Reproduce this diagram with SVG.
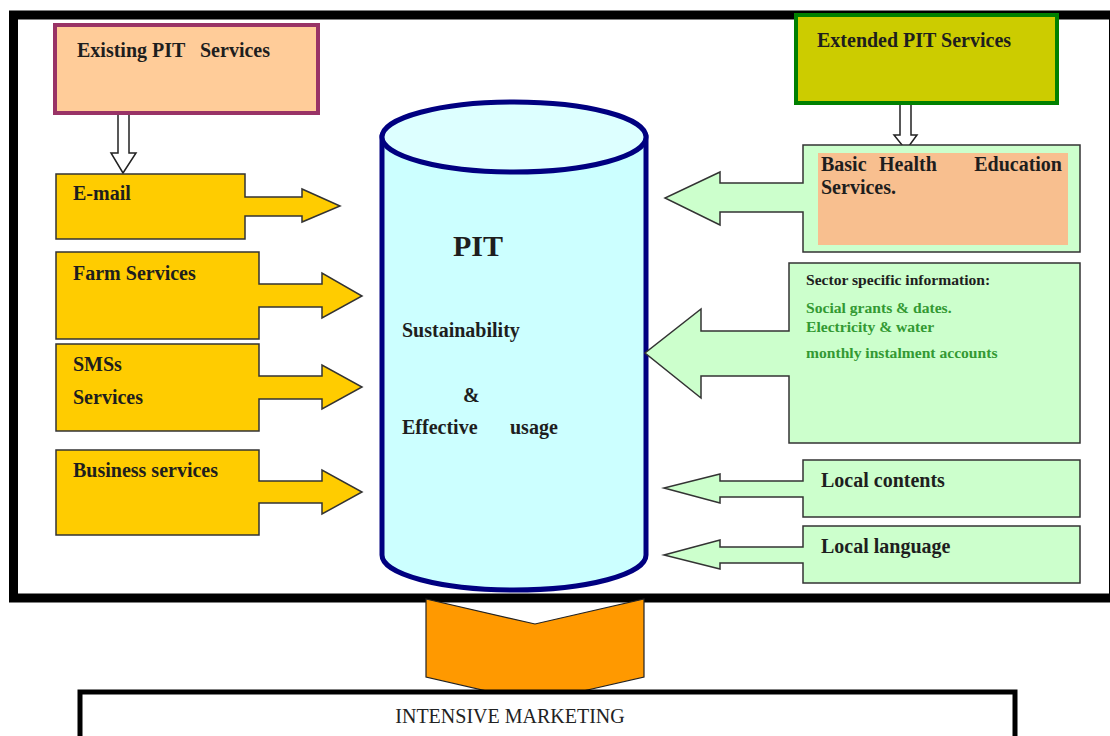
<svg xmlns="http://www.w3.org/2000/svg" width="1110" height="736" viewBox="0 0 1110 736">
<style>
.lbl{font-family:"Liberation Serif","Times New Roman",serif;font-weight:bold;font-size:20px;fill:#1e1e1e}
.sm{font-family:"Liberation Serif","Times New Roman",serif;font-weight:bold;font-size:15.6px}
.yel{fill:#FFCC00;stroke:#333;stroke-width:1.5}
.grn{fill:#CCFFCC;stroke:#333;stroke-width:1.5}
.wht{fill:#fff;stroke:#222;stroke-width:1.5}
</style>
<rect width="1110" height="736" fill="#fff"/>
<rect id="frame" x="13.5" y="15" width="1100" height="583" fill="none" stroke="#000" stroke-width="9"/>

<g id="connectors">
<polygon class="wht" points="118,112 129,112 129,153 136,153 123,173 111,153 118,153"/>
<polygon class="wht" points="900,95 911,95 911,135 917,135 906,150 894,135 900,135"/>
</g>

<g id="existing">
<rect x="55" y="25" width="263" height="88" fill="#FFCC99" stroke="#993366" stroke-width="4"/>
<text class="lbl" x="77" y="57">Existing PIT</text>
<text class="lbl" x="200" y="57">Services</text>
</g>

<g id="extended">
<rect x="796" y="15" width="261" height="88" fill="#CCCC00" stroke="#008000" stroke-width="4"/>
<text class="lbl" x="817" y="47">Extended PIT Services</text>
</g>

<g id="email">
<polygon class="yel" points="56,174 245,174 245,197 302,197 302,189 340,206 302,222 302,216 245,216 245,239 56,239"/>
<text class="lbl" x="73" y="200">E-mail</text>
</g>
<g id="farm">
<polygon class="yel" points="56,252 259,252 259,284 322,284 322,273 362,296 322,318 322,307 259,307 259,339 56,339"/>
<text class="lbl" x="73" y="280">Farm Services</text>
</g>
<g id="sms">
<polygon class="yel" points="56,344 259,344 259,376 322,376 322,365 362,387 322,409 322,399 259,399 259,431 56,431"/>
<text class="lbl" x="73" y="371">SMSs</text>
<text class="lbl" x="73" y="404">Services</text>
</g>
<g id="business">
<polygon class="yel" points="56,450 259,450 259,481 322,481 322,470 362,492 322,514 322,503 259,503 259,535 56,535"/>
<text class="lbl" x="73" y="477">Business services</text>
</g>

<g id="pit">
<path d="M382,137 L382,555 A132,35 0 0 0 646,555 L646,137 Z" fill="#CCFFFF" stroke="#000080" stroke-width="5"/>
<ellipse cx="514" cy="137" rx="132" ry="35" fill="#DDFFFF" stroke="#000080" stroke-width="5"/>
<text class="lbl" x="453" y="256" style="font-size:30px">PIT</text>
<text class="lbl" x="402" y="337">Sustainability</text>
<text class="lbl" x="463" y="402">&amp;</text>
<text class="lbl" x="402" y="434">Effective</text>
<text class="lbl" x="510" y="434">usage</text>
</g>

<g id="health">
<polygon class="grn" points="803,145 1080,145 1080,252 803,252 803,212 720,212 720,225 665,198 720,172 720,183 803,183"/>
<rect x="818" y="153" width="250" height="92" fill="#F8BF8F"/>
<text class="lbl" x="821" y="171">Basic</text>
<text class="lbl" x="879" y="171">Health</text>
<text class="lbl" x="1062" y="171" text-anchor="end">Education</text>
<text class="lbl" x="821" y="194">Services.</text>
</g>

<g id="sector">
<polygon class="grn" points="789,263 1080,263 1080,443 789,443 789,376 701,376 701,398 645,353 701,309 701,331 789,331"/>
<text class="sm" x="806" y="285" fill="#1e1e1e">Sector specific information:</text>
<text class="sm" x="806" y="313" fill="#339933">Social grants &amp; dates.</text>
<text class="sm" x="806" y="332" fill="#339933">Electricity &amp; water</text>
<text class="sm" x="806" y="358" fill="#339933">monthly instalment accounts</text>
</g>

<g id="contents">
<polygon class="grn" points="803,460 1080,460 1080,517 803,517 803,497 720,497 720,503 664,488 720,474 720,481 803,481"/>
<text class="lbl" x="821" y="487">Local contents</text>
</g>
<g id="language">
<polygon class="grn" points="803,526 1080,526 1080,583 803,583 803,563 720,563 720,569 664,555 720,540 720,547 803,547"/>
<text class="lbl" x="821" y="553">Local language</text>
</g>

<g id="chevron">
<polygon points="426,599 535,624 644,599 644,677 535,702 426,677" fill="#FF9900" stroke="#222" stroke-width="1.2"/>
</g>

<g id="marketing">
<rect x="80" y="692" width="935" height="50" fill="#fff" stroke="#000" stroke-width="5"/>
<text x="510" y="723" text-anchor="middle" style="font-family:'Liberation Serif','Times New Roman',serif;font-size:20px;fill:#222">INTENSIVE MARKETING</text>
</g>
</svg>
